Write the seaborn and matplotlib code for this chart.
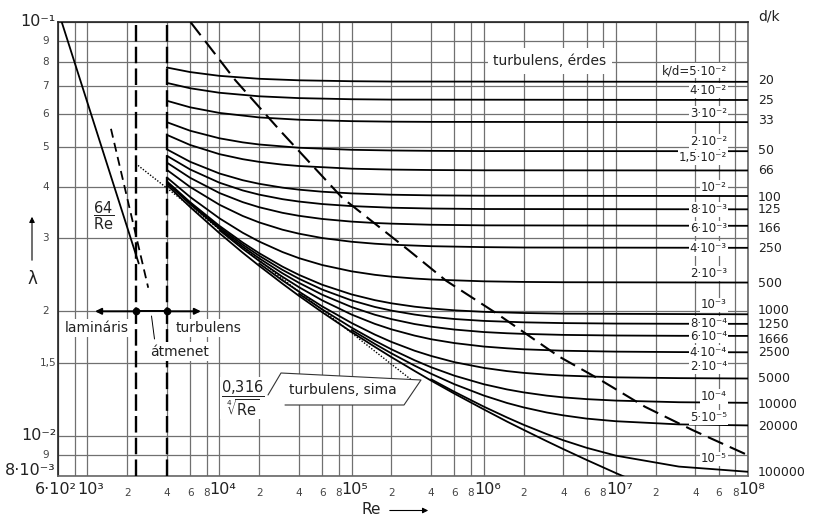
import numpy as np
import pandas as pd
import matplotlib
matplotlib.use("Agg")
import matplotlib.pyplot as plt
from matplotlib.transforms import offset_copy
from matplotlib.patches import Polygon
from matplotlib.lines import Line2D
import seaborn as sns

na = None

re_grid = [4e3, 6e3, 1e4, 1.5e4, 2e4, 3e4, 4e4, 6e4, 1e5, 1.5e5, 2e5, 3e5,
           4e5, 6e5, 1e6, 1.5e6, 2e6, 3e6, 4e6, 6e6, 1e7, 3e7, 1e8]

# friction factor lambda of each k/d curve at re_grid (None = not read there / curve not started)
lam_5e2 = [0.07763, 0.07569, 0.07411, na, 0.07291, na, 0.07230, na, 0.07193, na, 0.07180, na,
           na, na, na, na, na, na, na, na, na, na, 0.07169]
lam_4e2 = [0.07126, 0.06917, 0.06746, na, 0.06614, na, 0.06548, na, 0.06507, na, 0.06494, na,
           na, na, na, na, na, na, na, na, na, na, 0.06480]
lam_3e2 = [0.06452, 0.06221, 0.06030, na, 0.05881, na, 0.05806, na, 0.05760, na, 0.05744, na,
           0.05737, na, na, na, na, na, na, na, na, na, 0.05729]
lam_2e2 = [0.05727, 0.05461, 0.05236, 0.05119, 0.05059, na, 0.04968, na, 0.04912, na, 0.04893, na,
           0.04883, na, 0.04877, na, na, na, na, na, na, na, 0.04874]
lam_15e3 = [0.05337, 0.05045, 0.04794, 0.04662, 0.04593, 0.04523, 0.04488, na, 0.04422, na, 0.04400, na,
            0.04389, na, 0.04382, na, na, na, na, na, na, na, 0.04378]
lam_1e2 = [0.04924, 0.04595, 0.04305, 0.04147, 0.04065, 0.03979, 0.03935, 0.03890, 0.03854, na, 0.03826, na,
           0.03812, na, 0.03804, na, na, na, na, na, na, na, 0.03798]
lam_8e3 = [0.04751, 0.04403, 0.04090, 0.03918, 0.03827, 0.03732, 0.03683, 0.03632, 0.03591, na, 0.03559, na,
           0.03543, na, 0.03533, na, na, na, na, na, na, na, 0.03527]
lam_6e3 = [0.04574, 0.04203, 0.03862, 0.03671, 0.03568, 0.03459, 0.03402, 0.03343, 0.03294, 0.03269, 0.03257, na,
           0.03237, na, 0.03226, na, na, na, na, na, na, na, 0.03218]
lam_4e3 = [0.04393, 0.03994, 0.03618, 0.03399, 0.03279, 0.03149, 0.03080, 0.03006, 0.02945, 0.02913, 0.02897, na,
           0.02873, na, 0.02858, na, 0.02852, na, na, na, na, na, 0.02847]
lam_2e3 = [0.04211, 0.03778, 0.03355, 0.03096, 0.02948, 0.02781, 0.02688, 0.02587, 0.02498, 0.02450, 0.02425, 0.02400,
           0.02387, na, 0.02363, na, 0.02355, na, 0.02351, na, na, na, 0.02347]
lam_1e3 = [0.04122, 0.03670, 0.03217, 0.02932, 0.02763, 0.02564, 0.02449, 0.02318, 0.02197, 0.02128, 0.02091, 0.02052,
           0.02032, 0.02011, 0.01994, na, 0.01981, na, 0.01974, na, na, na, 0.01967]
lam_8e4 = [0.04104, 0.03649, 0.03190, 0.02898, 0.02724, 0.02518, 0.02397, 0.02257, 0.02125, 0.02049, 0.02008, 0.01964,
           0.01940, 0.01916, 0.01896, na, 0.01881, na, 0.01873, na, 0.01868, 0.01866, 0.01865]
lam_6e4 = [0.04088, 0.03629, 0.03163, 0.02865, 0.02685, 0.02471, 0.02343, 0.02193, 0.02048, 0.01962, 0.01915, 0.01863,
           0.01836, 0.01807, 0.01782, 0.01770, 0.01764, na, 0.01754, na, 0.01748, 0.01745, 0.01744]
lam_4e4 = [na, na, 0.0314, 0.02832, 0.02647, 0.02423, 0.02287, 0.02125, 0.01964, 0.01865, 0.01809, 0.01747,
           0.01712, 0.01676, 0.01644, 0.01628, 0.01619, na, 0.01606, na, 0.01598, 0.01594, 0.01592]
lam_2e4 = [na, na, na, na, 0.02609, 0.02375, 0.02231, 0.02055, 0.01874, 0.01757, 0.01687, 0.01606,
           0.01560, 0.01507, 0.01460, 0.01434, 0.01420, 0.01406, 0.01399, na, 0.01385, 0.01379, 0.01376]
lam_1e4 = [na, na, na, na, na, na, 0.02204, 0.02021, 0.01826, 0.01698, 0.01619, 0.01523,
           0.01465, 0.01398, 0.01333, 0.01295, 0.01274, 0.01251, 0.01239, 0.01227, 0.01217, 0.01206, 0.01202]
lam_5e5 = [na, na, na, na, na, na, na, na, 0.01803, 0.01668, 0.01583, 0.01478,
           0.01413, 0.01333, 0.01252, 0.01201, 0.01172, 0.01139, 0.01121, 0.01101, 0.01085, 0.01066, 0.01060]
lam_1e5 = [na, na, na, na, na, na, na, na, na, na, na, na,
           0.01370, 0.01278, 0.01177, 0.01108, 0.01064, 0.01010, 0.00976, 0.00936, 0.00896, 0.00843, 0.00819]
lam_smooth = [0.04042, 0.03572, 0.03089, 0.02771, 0.02575, 0.02332, 0.02179, 0.01989, 0.01782, 0.01641, 0.01550, 0.01435,
              0.01360, 0.01265, 0.01159, 0.01083, 0.010345, 0.009709, 0.009292, 0.00875, 0.008131, 0.0070, na]

kd_curves = [lam_5e2, lam_4e2, lam_3e2, lam_2e2, lam_15e3, lam_1e2, lam_8e3, lam_6e3, lam_4e3,
             lam_2e3, lam_1e3, lam_8e4, lam_6e4, lam_4e4, lam_2e4, lam_1e4, lam_5e5, lam_1e5]
kd_labels = ["k/d=5·10⁻²", "4·10⁻²", "3·10⁻²", "2·10⁻²", "1,5·10⁻²", "10⁻²", "8·10⁻³", "6·10⁻³", "4·10⁻³",
             "2·10⁻³", "10⁻³", "8·10⁻⁴", "6·10⁻⁴", "4·10⁻⁴", "2·10⁻⁴", "10⁻⁴", "5·10⁻⁵", "10⁻⁵"]
dk_labels = ["20", "25", "33", "50", "66", "100", "125", "166", "250", "500",
             "1000", "1250", "1666", "2500", "5000", "10000", "20000", "100000"]

# laminar 64/Re, Blasius 0.316/Re^0.25, transition stub, limit of the rough zone
re_laminar = [640, 2450]
lam_laminar = [0.1, 0.0261]
re_blasius = [2320, 2.8e5]
lam_blasius = [0.0455, 0.0137]
re_trans = [1510, 2890]
lam_trans = [0.0552, 0.0228]
re_limit = [6030, 1.32e4, 2.9e4, 8.5e4, 2.7e5, 5.2e5, 1.24e6, 3.7e6, 7.3e6, 1.66e7, 3.8e7, 1e8]
lam_limit = [0.1, 0.0723, 0.0545, 0.0376, 0.0281, 0.0237, 0.0198, 0.01556, 0.01377, 0.01176, 0.01033, 0.00898]
re_crit = [2320, 4000]
lam_crit = 0.02
re_arrow_ends = [1090, 7600]

x_ticks = [600, 800, 1e3, 2e3, 4e3, 6e3, 8e3, 1e4, 2e4, 4e4, 6e4, 8e4, 1e5, 2e5, 4e5, 6e5, 8e5,
           1e6, 2e6, 4e6, 6e6, 8e6, 1e7, 2e7, 4e7, 6e7, 8e7, 1e8]
x_ticklabels = ["6·10²", "", "10³", "2", "4", "6", "8", "10⁴", "2", "4", "6", "8", "10⁵", "2", "4", "6", "8",
                "10⁶", "2", "4", "6", "8", "10⁷", "2", "4", "6", "8", "10⁸"]
y_ticks = [0.008, 0.009, 0.01, 0.015, 0.02, 0.03, 0.04, 0.05, 0.06, 0.07, 0.08, 0.09, 0.1]
y_ticklabels = ["8·10⁻³", "9", "10⁻²", "1,5", "2", "3", "4", "5", "6", "7", "8", "9", "10⁻¹"]

# label placement (image pixels)
kd_label_y = [70.5, 90.8, 113.8, 141.7, 157.5, 187.5, 209.5, 228.3, 248.3, 273.3,
              305, 323.3, 336, 352.8, 366.7, 396.7, 417.5, 459]
dk_label_y = [81, 100.5, 121, 150, 170, 197.3, 209.5, 228.7, 249, 283.5,
              311, 324.7, 339.5, 352.8, 378.7, 404.7, 426.3, 472.8]

W, H = 819, 519


def fpos(x, y):
    return x / W, 1 - y / H


sns.set_style("white")
plt.rcParams["font.family"] = ["DejaVu Sans"]
plt.rcParams["mathtext.fontset"] = "dejavusans"

fig = plt.figure(figsize=(W / 100, H / 100), dpi=100)
ax = fig.add_axes([58 / W, 1 - 476 / H, 690 / W, 454 / H])

# build long table of the k/d curves
rows = []
for name, lam in zip(kd_labels + ["smooth"], kd_curves + [lam_smooth]):
    for re, l in zip(re_grid, lam):
        if l is not None:
            rows.append((name, re, l))
df = pd.DataFrame(rows, columns=["curve", "Re", "lam"])

sns.lineplot(data=df, x="Re", y="lam", hue="curve", palette={n: "black" for n in df["curve"].unique()},
             estimator=None, legend=False, lw=1.3, ax=ax, zorder=3)
sns.lineplot(x=re_laminar, y=lam_laminar, color="black", lw=1.3, ax=ax, zorder=3)
sns.lineplot(x=re_blasius, y=lam_blasius, color="black", lw=1.0, linestyle=(0, (1, 1.2)), ax=ax, zorder=3)
sns.lineplot(x=re_trans, y=lam_trans, color="black", lw=1.3, linestyle=(0, (5, 3)), ax=ax, zorder=3)
sns.lineplot(x=re_limit, y=lam_limit, color="black", lw=1.5, linestyle=(0, (8, 3.5)), ax=ax, zorder=3)
for r in re_crit:
    ax.axvline(r, color="black", lw=1.7, linestyle=(0, (7, 2.2)), zorder=3)

ax.set_xscale("log")
ax.set_yscale("log")
ax.set_xlim(600, 1e8)
ax.set_ylim(0.008, 0.1)
ax.set_xticks(x_ticks)
ax.set_yticks(y_ticks)
ax.xaxis.set_minor_locator(matplotlib.ticker.NullLocator())
ax.yaxis.set_minor_locator(matplotlib.ticker.NullLocator())
ax.set_xticklabels([])
ax.set_yticklabels([])
ax.tick_params(length=0)
ax.grid(True, color="#707070", lw=0.9)
ax.set_axisbelow(True)
ax.set_xlabel("")
ax.set_ylabel("")
for side in ["left", "top"]:
    ax.spines[side].set_color("#222222")
    ax.spines[side].set_linewidth(1.2)
for side in ["right", "bottom"]:
    ax.spines[side].set_color("#666666")
    ax.spines[side].set_linewidth(1.2)

# tick labels
for x, t in zip(x_ticks, x_ticklabels):
    if not t:
        continue
    big = "10" in t
    if t.startswith("10"):
        tr = offset_copy(ax.get_xaxis_transform(), fig=fig, x=3.5, y=-18, units="dots")
    else:
        tr = offset_copy(ax.get_xaxis_transform(), fig=fig, x=-2 if big else 0, y=-18 if big else -20.5, units="dots")
    ax.text(x, 0, t, transform=tr, ha="center", va="baseline",
            fontsize=11.5 if big else 7.5, color="#222222" if big else "#444444")
for y, t in zip(y_ticks, y_ticklabels):
    big = "10" in t
    if t == "8·10⁻³":
        dy = 1
    elif big:
        dy = -4.5
    else:
        dy = 0
    tr = offset_copy(ax.get_yaxis_transform(), fig=fig, x=-2 if (big or t == "1,5") else -9, y=dy, units="dots")
    ax.text(0, y, t, transform=tr, ha="right", va="baseline" if big else "center",
            fontsize=11.5 if big else 7.5, color="#222222" if big else "#444444")

# k/d labels inside, d/k labels outside
for t, yp in zip(kd_labels, kd_label_y):
    ax.text(*fpos(727, yp), t, transform=fig.transFigure, ha="right", va="center", fontsize=8.5,
            color="#222222", zorder=5, bbox=dict(fc="white", ec="none", pad=0.6))
for t, yp in zip(dk_labels, dk_label_y):
    fig.text(*fpos(758, yp), t, ha="left", va="center", fontsize=9, color="#222222")
fig.text(*fpos(758, 17), "d/k", ha="left", va="center", fontsize=10, color="#222222")

# regime arrows and markers at lambda = 0.02
ax.plot(re_crit, [lam_crit, lam_crit], color="black", lw=1.4, zorder=4)
ax.plot(re_crit, [lam_crit, lam_crit], "o", color="black", ms=4.5, zorder=4)
ax.annotate("", xy=(re_arrow_ends[0], lam_crit), xytext=(re_crit[0], lam_crit),
            arrowprops=dict(arrowstyle="-|>", color="black", lw=1.4, mutation_scale=9), zorder=4)
ax.annotate("", xy=(re_arrow_ends[1], lam_crit), xytext=(re_crit[1], lam_crit),
            arrowprops=dict(arrowstyle="-|>", color="black", lw=1.4, mutation_scale=9), zorder=4)

box = dict(fc="white", ec="none", pad=1.5)
ax.text(*fpos(97, 328), "lamináris", transform=fig.transFigure, ha="center", va="center",
        fontsize=10, color="#222222", bbox=box, zorder=5)
ax.text(*fpos(209, 328), "turbulens", transform=fig.transFigure, ha="center", va="center",
        fontsize=10, color="#222222", bbox=box, zorder=5)
ax.text(*fpos(180, 351.5), "átmenet", transform=fig.transFigure, ha="center", va="center",
        fontsize=10, color="#222222", bbox=box, zorder=5)
ax.add_line(Line2D([154.5 / W, 151.5 / W], [1 - 339 / H, 1 - 316 / H], transform=fig.transFigure,
                   color="black", lw=0.7, zorder=6))
ax.text(*fpos(550, 61), "turbulens, érdes", transform=fig.transFigure, ha="center", va="center",
        fontsize=10, color="#222222", bbox=dict(fc="white", ec="none", pad=4), zorder=5)
ax.text(*fpos(103.5, 216), r"$\dfrac{64}{\mathrm{Re}}$", transform=fig.transFigure, ha="center",
        va="center", fontsize=10.5, color="#222222", zorder=5)

# Blasius label with its bracket
ax.text(*fpos(243, 398), r"$\dfrac{0{,}316}{\sqrt[4]{\mathrm{Re}}}$", transform=fig.transFigure,
        ha="center", va="center", fontsize=10.5, color="#222222", zorder=5,
        bbox=dict(fc="white", ec="none", pad=1))
pts = [(268, 395), (281, 373), (421, 380), (404, 405), (285, 405)]
ax.add_patch(Polygon([fpos(*p) for p in pts[1:]] + [fpos(276, 405)], closed=True, transform=fig.transFigure,
                     fc="white", ec="none", zorder=4))
ax.add_line(Line2D([p[0] / W for p in pts], [1 - p[1] / H for p in pts], transform=fig.transFigure,
                   color="#333333", lw=0.8, zorder=5))
ax.text(*fpos(343, 390), "turbulens, sima", transform=fig.transFigure, ha="center", va="center",
        fontsize=10, color="#222222", zorder=6)

# axis names with arrows
fig.text(*fpos(32, 279), "λ", ha="center", va="center", fontsize=12, color="#222222")
ax.annotate("", xy=fpos(32, 214), xytext=fpos(32, 263), xycoords="figure fraction",
            textcoords="figure fraction", arrowprops=dict(arrowstyle="-|>", color="black", lw=0.8, mutation_scale=8))
fig.text(*fpos(371, 510), "Re", ha="center", va="center", fontsize=11, color="#222222")
ax.annotate("", xy=fpos(431, 510.5), xytext=fpos(387, 510.5), xycoords="figure fraction",
            textcoords="figure fraction", arrowprops=dict(arrowstyle="-|>", color="black", lw=0.8, mutation_scale=8))

fig.savefig("out.png", dpi=100)
